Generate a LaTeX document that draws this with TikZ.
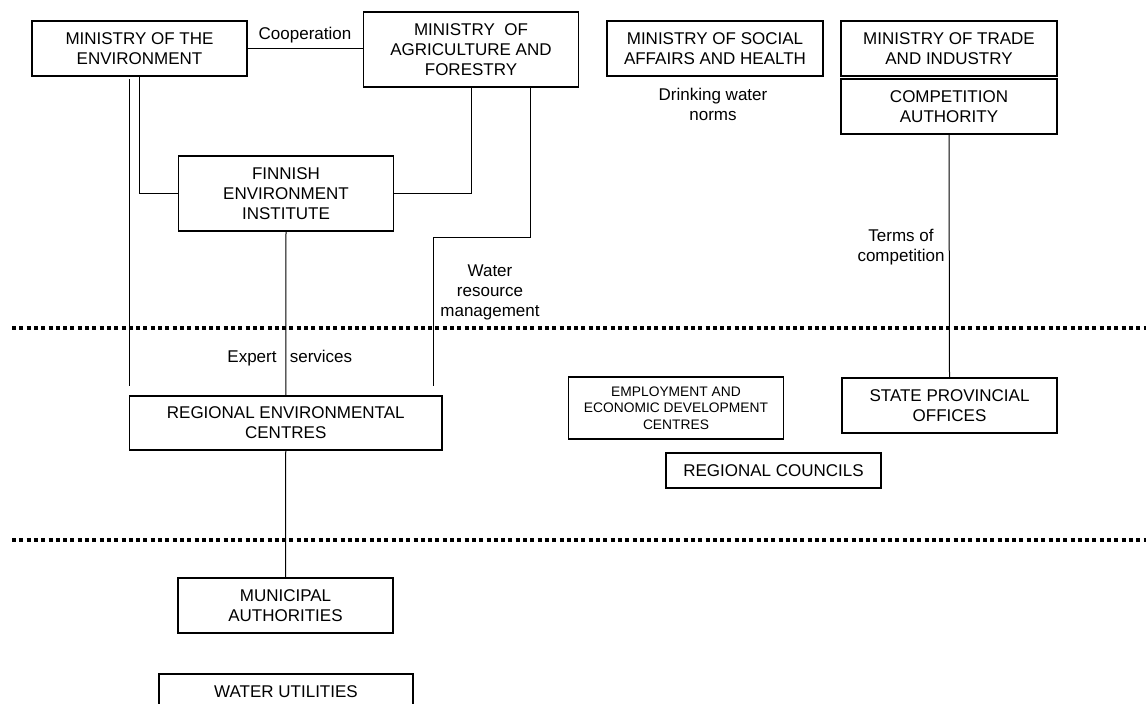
\documentclass[tikz,border=0pt]{standalone}
\usepackage{fontspec}
\setmainfont{Liberation Sans}
\usetikzlibrary{positioning}
\tikzset{
    block/.style = {
        draw,
        shape=rectangle,
        align=center,
        inner sep=0pt,
        minimum height=55pt,
        minimum width=215pt,
        line width=1.3pt,
        font=\fontsize{17}{20}\selectfont
    },
    tall/.style = {
        block,
        minimum height=75pt
    },
    note/.style = {
        shape=rectangle,
        align=center,
        inner sep=0pt,
        font=\fontsize{17}{20}\selectfont
    },
    link/.style = {
        draw,
        line width=1pt
    },
    tier/.style = {
        draw,
        line width=4pt,
        dash pattern=on 4pt off 3.3pt
    },
}

\begin{document}
\begin{tikzpicture}[x=1pt,y=-1pt]
    \useasboundingbox (0,0) rectangle (1146,704);

    \node[block] (minenv) at (139.5,48.5) {MINISTRY OF THE\\ENVIRONMENT};
    \node[tall] (agri) at (471,49.5) {MINISTRY \ OF\\AGRICULTURE AND\\FORESTRY};
    \node[block, minimum width=216pt] (social) at (715,48.5) {MINISTRY OF SOCIAL\\AFFAIRS AND HEALTH};
    \node[block, minimum width=216pt] (trade) at (949,48.5) {MINISTRY OF TRADE\\AND INDUSTRY};
    \node[block, minimum width=216pt] (compet) at (949,106.5) {COMPETITION\\AUTHORITY};
    \node[tall] (fei) at (286,193.5) {FINNISH\\ENVIRONMENT\\INSTITUTE};
    \node[block, minimum width=312.5pt, minimum height=54pt] (rec) at (285.75,423) {REGIONAL ENVIRONMENTAL\\CENTRES};
    \node[block, minimum height=62pt, font=\fontsize{13.8}{16.5}\selectfont] (eedc) at (676,408) {EMPLOYMENT AND\\ECONOMIC DEVELOPMENT\\CENTRES};
    \node[block] (spo) at (949.5,405.5) {STATE PROVINCIAL\\OFFICES};
    \node[block, minimum height=35pt] (regcoun) at (773.5,470.5) {REGIONAL COUNCILS};
    \node[block] (munic) at (285.5,605.5) {MUNICIPAL\\AUTHORITIES};
    \node[block, minimum width=254pt, minimum height=36pt] (wateru) at (286,692) {WATER UTILITIES};

    \node[note] (coop) at (305,35) {Cooperation};
    \node[note] (drink) at (713,104.5) {Drinking water\\norms};
    \node[note] (terms) at (901,247.5) {Terms of\\competition};
    \node[note] (wrm) at (490,292) {Water\\resource\\management};
    \node[note, anchor=base] (expert) at (252,362) {Expert};
    \node[note, anchor=base] (serv) at (321,362) {services};

    \coordinate (envtop) at (129.5,79);
    \coordinate (envfoot) at (129.5,386);
    \coordinate (wrmknee) at (433,237);
    \coordinate (wrmfoot) at (433,386);

    % levels
    \path[tier] (12,328) -- (1150,328);
    \path[tier] (12,540) -- (1150,540);

    \path[link] (minenv.east) -- (minenv.east -| agri.west);
    \path[link] (envtop) -- (envfoot);
    \path[link] (minenv.south) |- (fei.west);
    \path[link] (fei.east) -| (agri.south);
    \path[link] ([xshift=59pt]agri.south) |- (wrmknee) -- (wrmfoot);
    \path[link] (fei.south) -- (rec.north);
    \path[link] (rec.south) -- (munic.north);
    \path[link] (compet.south) -- (spo.north);
\end{tikzpicture}
\end{document}
